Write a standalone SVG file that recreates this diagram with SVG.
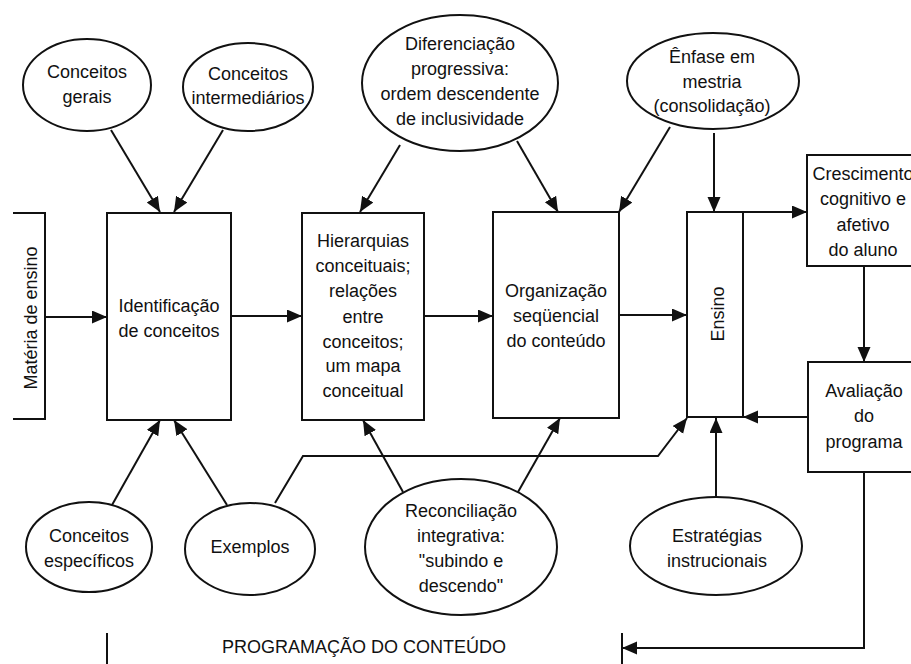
<svg xmlns="http://www.w3.org/2000/svg" width="911" height="664" viewBox="0 0 911 664">
  <style>
    .shape { fill: #fff; stroke: #111; stroke-width: 2; }
    .line { fill: none; stroke: #111; stroke-width: 2; }
    .arrow { fill: none; stroke: #111; stroke-width: 2; marker-end: url(#head); }
    text { font-family: "Liberation Sans", Arial, sans-serif; font-size: 18px; fill: #111; text-anchor: middle; }
  </style>
  <defs>
    <marker id="head" markerUnits="userSpaceOnUse" markerWidth="16" markerHeight="14" refX="15" refY="6.5" orient="auto">
      <path d="M0,0 L15,6.5 L0,13 z" fill="#111"/>
    </marker>
  </defs>
  <rect width="911" height="664" fill="#fff"/>

  <!-- connectors -->
  <g id="connectors">
    <line class="arrow" x1="111" y1="130" x2="160" y2="212"/>
    <line class="arrow" x1="223" y1="130" x2="174" y2="212"/>
    <line class="arrow" x1="400" y1="145" x2="360" y2="212"/>
    <line class="arrow" x1="517" y1="141" x2="558" y2="212"/>
    <line class="arrow" x1="670" y1="127" x2="619" y2="212"/>
    <line class="arrow" x1="714" y1="133" x2="714" y2="212"/>

    <line class="arrow" x1="45" y1="317" x2="107" y2="317"/>
    <line class="arrow" x1="231" y1="316" x2="302" y2="316"/>
    <line class="arrow" x1="424" y1="316" x2="493" y2="316"/>
    <line class="arrow" x1="619" y1="315" x2="687" y2="315"/>

    <line class="arrow" x1="743" y1="212" x2="807" y2="212"/>
    <line class="arrow" x1="864" y1="266" x2="864" y2="362"/>
    <line class="arrow" x1="808" y1="417" x2="743" y2="417"/>

    <line class="arrow" x1="112" y1="505" x2="160" y2="420"/>
    <line class="arrow" x1="227" y1="505" x2="174" y2="420"/>
    <polyline class="arrow" points="275,503 303,456 658,456 687,418"/>
    <line class="arrow" x1="403" y1="492" x2="363" y2="420"/>
    <line class="arrow" x1="518" y1="492" x2="560" y2="418"/>
    <line class="arrow" x1="716" y1="497" x2="716" y2="418"/>

    <polyline class="arrow" points="864,472 864,648 622,648"/>
    <line class="line" x1="622" y1="633" x2="622" y2="664"/>
    <line class="line" x1="107" y1="633" x2="107" y2="664"/>
  </g>

  <!-- source bracket -->
  <g id="materia">
    <polyline class="line" points="13,213 45,213 45,419 13,419"/>
    <text transform="translate(37,318) rotate(-90)">Matéria de ensino</text>
  </g>

  <g id="identificacao">
    <rect class="shape" x="107" y="213" width="124" height="207"/>
    <text x="169" y="312">Identificação</text>
    <text x="169" y="337">de conceitos</text>
  </g>

  <g id="hierarquias">
    <rect class="shape" x="302" y="213" width="122" height="207"/>
    <text x="363" y="247">Hierarquias</text>
    <text x="363" y="272">conceituais;</text>
    <text x="363" y="297">relações</text>
    <text x="363" y="323">entre</text>
    <text x="363" y="348">conceitos;</text>
    <text x="363" y="372">um mapa</text>
    <text x="363" y="397">conceitual</text>
  </g>

  <g id="organizacao">
    <rect class="shape" x="493" y="212" width="126" height="206"/>
    <text x="556" y="297">Organização</text>
    <text x="556" y="322">seqüencial</text>
    <text x="556" y="347">do conteúdo</text>
  </g>

  <g id="ensino">
    <rect class="shape" x="687" y="212" width="56" height="205"/>
    <text transform="translate(724,314) rotate(-90)">Ensino</text>
  </g>

  <g id="crescimento">
    <rect class="shape" x="807" y="155" width="120" height="111"/>
    <text x="863" y="180">Crescimento</text>
    <text x="863" y="205">cognitivo e</text>
    <text x="863" y="231">afetivo</text>
    <text x="863" y="256">do aluno</text>
  </g>

  <g id="avaliacao">
    <rect class="shape" x="808" y="362" width="120" height="110"/>
    <text x="864" y="397">Avaliação</text>
    <text x="864" y="422">do</text>
    <text x="864" y="448">programa</text>
  </g>

  <g id="conceitos-gerais">
    <ellipse class="shape" cx="87" cy="85" rx="64" ry="46"/>
    <text x="87" y="78">Conceitos</text>
    <text x="87" y="103">gerais</text>
  </g>

  <g id="conceitos-intermediarios">
    <ellipse class="shape" cx="248" cy="87" rx="65" ry="44"/>
    <text x="248" y="80">Conceitos</text>
    <text x="248" y="104">intermediários</text>
  </g>

  <g id="diferenciacao">
    <ellipse class="shape" cx="460" cy="83" rx="98" ry="68"/>
    <text x="460" y="50">Diferenciação</text>
    <text x="460" y="75">progressiva:</text>
    <text x="460" y="100">ordem descendente</text>
    <text x="460" y="125">de inclusividade</text>
  </g>

  <g id="enfase">
    <ellipse class="shape" cx="713" cy="81" rx="86" ry="48"/>
    <text x="712" y="63">Ênfase em</text>
    <text x="712" y="88">mestria</text>
    <text x="712" y="112">(consolidação)</text>
  </g>

  <g id="conceitos-especificos">
    <ellipse class="shape" cx="89" cy="547" rx="63" ry="45"/>
    <text x="89" y="542">Conceitos</text>
    <text x="89" y="567">específicos</text>
  </g>

  <g id="exemplos">
    <ellipse class="shape" cx="250" cy="549" rx="65" ry="46"/>
    <text x="250" y="553">Exemplos</text>
  </g>

  <g id="reconciliacao">
    <ellipse class="shape" cx="461" cy="547" rx="96" ry="68"/>
    <text x="461" y="517">Reconciliação</text>
    <text x="461" y="542">integrativa:</text>
    <text x="461" y="567">"subindo e</text>
    <text x="461" y="592">descendo"</text>
  </g>

  <g id="estrategias">
    <ellipse class="shape" cx="716" cy="546" rx="86" ry="49"/>
    <text x="717" y="542">Estratégias</text>
    <text x="717" y="567">instrucionais</text>
  </g>

  <g id="programacao">
    <text x="364" y="653">PROGRAMAÇÃO DO CONTEÚDO</text>
  </g>
</svg>
